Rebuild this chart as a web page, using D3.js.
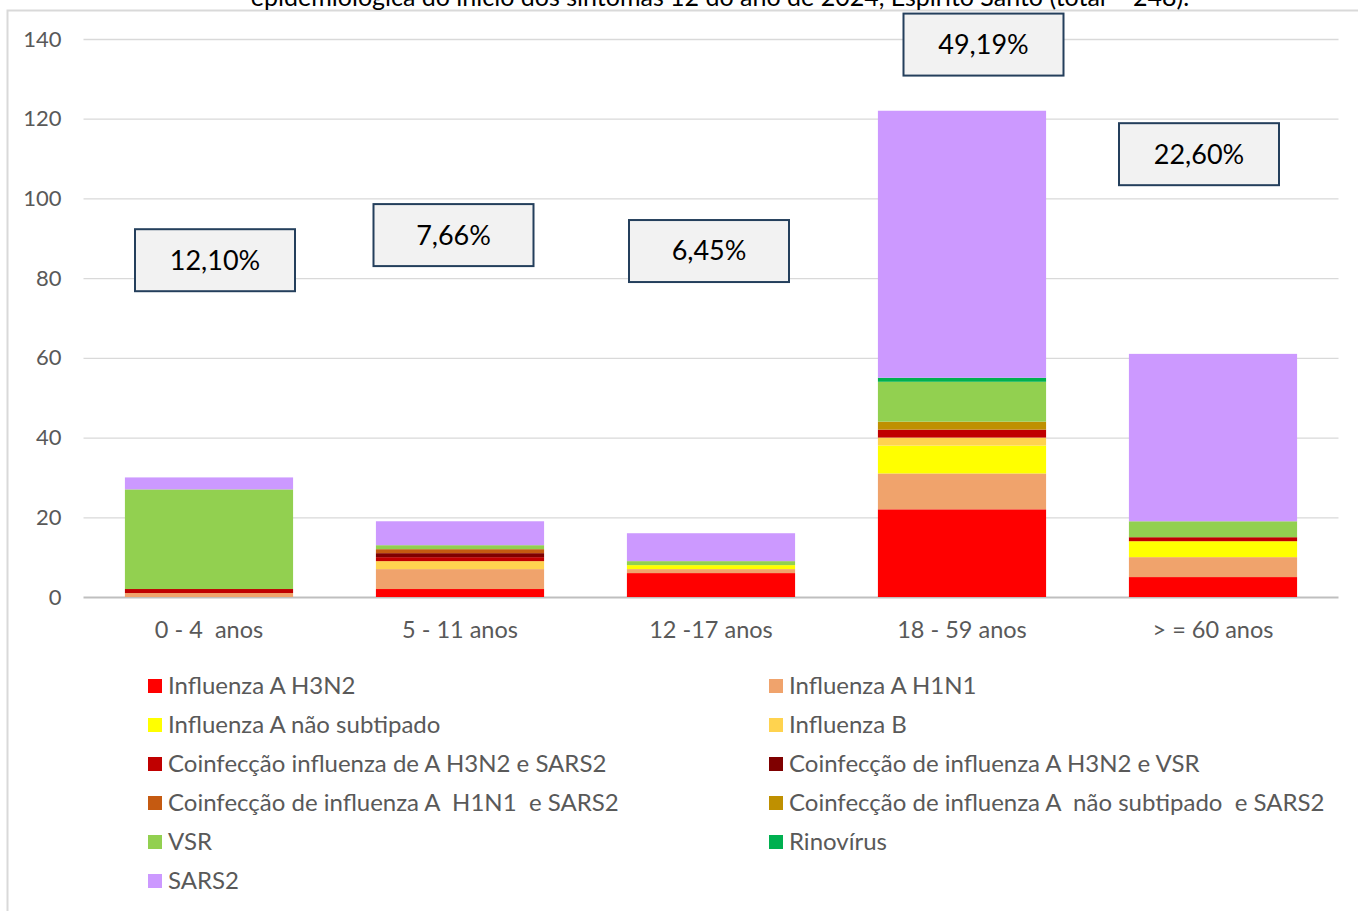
<!DOCTYPE html>
<html>
<head>
<meta charset="utf-8">
<script src="https://cdn.jsdelivr.net/npm/d3@7"></script>
<style>
  body { margin: 0; background: #fff; }
  svg text { font-family: Lato, "Liberation Sans", sans-serif; white-space: pre; }
</style>
</head>
<body>
<div id="chart"></div>
<script>
// dados
let faixas = ['0 - 4  anos', '5 - 11 anos', '12 -17 anos', '18 - 59 anos', '> = 60 anos'];
let series = ['Influenza A H3N2', 'Influenza A H1N1', 'Influenza A não subtipado', 'Influenza B',
  'Coinfecção influenza de A H3N2 e SARS2', 'Coinfecção de influenza A H3N2 e VSR',
  'Coinfecção de influenza A  H1N1  e SARS2', 'Coinfecção de influenza A  não subtipado  e SARS2',
  'VSR', 'Rinovírus', 'SARS2'];
let h3n2      = [0, 2, 6, 22, 5];
let h1n1      = [1, 5, 1, 9, 5];
let naoSub    = [0, 0, 1, 7, 4];
let fluB      = [0, 2, 0, 2, 0];
let coH3Sars  = [1, 1, 0, 2, 1];
let coH3Vsr   = [0, 1, 0, 0, 0];
let coH1Sars  = [0, 1, 0, 0, 0];
let coNsSars  = [0, 0, 0, 2, 0];
let vsr       = [25, 1, 1, 10, 4];
let rino      = [0, 0, 0, 1, 0];
let sars2     = [3, 6, 7, 67, 42];
let percentuais = ['12,10%', '7,66%', '6,45%', '49,19%', '22,60%'];
let yTicks = [0, 20, 40, 60, 80, 100, 120, 140];

let cores = ['#FF0000', '#F0A36C', '#FFFF00', '#FFD34F', '#C00000', '#7F0000',
  '#C55A11', '#BF9000', '#92D050', '#00B050', '#CC99FF'];
let valores = [h3n2, h1n1, naoSub, fluB, coH3Sars, coH3Vsr, coH1Sars, coNsSars, vsr, rino, sars2];

// posição das caixas de percentual (deslocamento x em px, centro em unidades do eixo y)
let caixaPos = [{dx: 6, v: 84.5}, {dx: -6.5, v: 90.8}, {dx: -2, v: 86.8}, {dx: 21.5, v: 138.6}, {dx: -14, v: 111.1}];

let W = 1358, H = 911;
let svg = d3.select('#chart').append('svg').attr('width', W).attr('height', H);

// moldura do gráfico
svg.append('path').attr('d', 'M7.5,' + H + ' V10.5 H' + W).attr('fill', 'none').attr('stroke', '#d9d9d9').attr('stroke-width', 2);

// título (segunda linha, cortada no topo como no original)
svg.append('text').attr('x', 720).attr('y', 6).attr('text-anchor', 'middle')
  .attr('font-size', '25px').attr('fill', '#000')
  .text('epidemiológica do início dos sintomas 12 do ano de 2024, Espírito Santo (total = 248).');

let xScale = d3.scaleBand().domain(faixas).range([83.5, 1338.5]).paddingInner(0.33).paddingOuter(0.165);
let yScale = d3.scaleLinear().domain([0, 140]).range([597, 39]);

// grade
let yAxis = svg.append('g').attr('transform', 'translate(83.5,0)')
  .call(d3.axisLeft(yScale).tickValues(yTicks).tickSize(-(1338.5 - 83.5)).tickPadding(22));
yAxis.select('.domain').remove();
yAxis.selectAll('line').attr('stroke', function (d) { return d === 0 ? '#bfbfbf' : '#d9d9d9'; })
  .attr('stroke-width', function (d) { return d === 0 ? 2 : 1.3; });
yAxis.selectAll('text').attr('font-size', '22px').attr('fill', '#595959')
  .style('font-family', 'Lato, sans-serif');

// barras empilhadas
let tabela = faixas.map(function (f, i) {
  let linha = {faixa: f};
  series.forEach(function (s, k) { linha[s] = valores[k][i]; });
  return linha;
});
let pilha = d3.stack().keys(series)(tabela);

svg.append('g').selectAll('g').data(pilha).enter().append('g')
  .attr('fill', function (d, k) { return cores[k]; })
  .selectAll('rect').data(function (d) { return d; }).enter().append('rect')
  .attr('x', function (d) { return xScale(d.data.faixa); })
  .attr('width', xScale.bandwidth())
  .attr('y', function (d) { return yScale(d[1]); })
  .attr('height', function (d) { return yScale(d[0]) - yScale(d[1]); });

// eixo x
let xAxis = svg.append('g').attr('transform', 'translate(0,597)')
  .call(d3.axisBottom(xScale).tickSize(0).tickPadding(24));
xAxis.select('.domain').remove();
xAxis.selectAll('text').attr('font-size', '23.5px').attr('fill', '#595959')
  .style('font-family', 'Lato, sans-serif');

// caixas de percentual
let caixas = svg.append('g').selectAll('g').data(percentuais).enter().append('g')
  .attr('transform', function (d, i) {
    return 'translate(' + (xScale(faixas[i]) + xScale.bandwidth() / 2 + caixaPos[i].dx) + ',' + yScale(caixaPos[i].v) + ')';
  });
caixas.append('rect').attr('x', -80).attr('y', -31).attr('width', 160).attr('height', 62)
  .attr('fill', '#f2f2f2').attr('stroke', '#243f5c').attr('stroke-width', 2);
caixas.append('text').attr('text-anchor', 'middle').attr('dy', '0.35em')
  .attr('font-size', '27px').attr('fill', '#000').text(function (d) { return d; });

// legenda
let legenda = svg.append('g').selectAll('g').data(series).enter().append('g')
  .attr('transform', function (d, k) {
    return 'translate(' + (k % 2 === 0 ? 148 : 769) + ',' + (686 + Math.floor(k / 2) * 39) + ')';
  });
legenda.append('rect').attr('y', -7).attr('width', 14).attr('height', 14)
  .attr('fill', function (d, k) { return cores[k]; });
legenda.append('text').attr('x', 20).attr('dy', '0.35em').attr('font-size', '24px')
  .attr('fill', '#595959').text(function (d) { return d; });
</script>
</body>
</html>
